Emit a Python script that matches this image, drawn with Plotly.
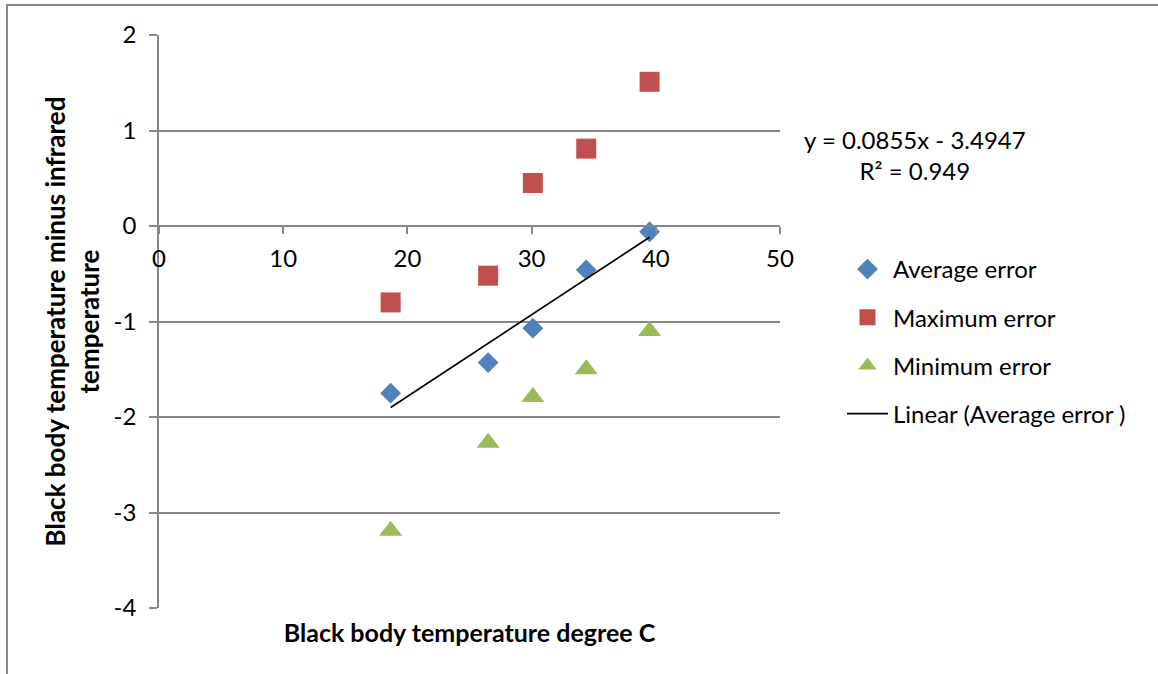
import plotly.graph_objects as go

# ---- data ----
x_temp = [18.65, 26.5, 30.1, 34.4, 39.5]
avg_err = [-1.75, -1.43, -1.07, -0.46, -0.06]
max_err = [-0.80, -0.52, 0.45, 0.81, 1.51]
min_err = [-3.19, -2.27, -1.79, -1.50, -1.10]
trend_slope = 0.0855
trend_intercept = -3.4947
trend_r2 = 0.949
x_ticks = [0, 10, 20, 30, 40, 50]
y_ticks = [-4, -3, -2, -1, 0, 1, 2]
y_ticklabels = ["-4", "-3", "-2", "-1", "0", "1", "2"]

FONT = "Lato"
fs = 24

trend_x = [min(x_temp), max(x_temp)]
trend_y = [trend_slope * v + trend_intercept for v in trend_x]

fig = go.Figure()
fig.add_trace(go.Scatter(x=x_temp, y=avg_err, mode="markers", name="Average error",
                         legendgroup="a",
                         marker=dict(symbol="diamond", size=16, color="#4F81BD")))
fig.add_trace(go.Scatter(x=x_temp, y=max_err, mode="markers", name="Maximum error",
                         legendgroup="b",
                         marker=dict(symbol="square", size=20, color="#C0504D")))
fig.add_trace(go.Scatter(x=x_temp, y=min_err, mode="markers", name="Minimum error",
                         legendgroup="c",
                         marker=dict(symbol="triangle-up", size=20, color="#9BBB59")))
fig.add_trace(go.Scatter(x=trend_x, y=trend_y, mode="lines", name="Linear (Average error )",
                         legendgroup="d", xaxis="x2",
                         line=dict(color="black", width=1.7)))

L, R, T, B = 159, 378, 35, 66
W, H = 1158, 674
pw = W - L - R
ph = H - T - B

def px_x(p):
    return (p - L) / pw

def px_y(p):
    return (H - B - p) / ph

fig.update_layout(
    width=W, height=H,
    margin=dict(l=L, r=R, t=T, b=B, autoexpand=False),
    paper_bgcolor="white", plot_bgcolor="white",
    font=dict(family=FONT, size=fs, color="black"),
    showlegend=True,
    legend=dict(x=px_x(842), y=px_y(247), xanchor="left", yanchor="top",
                tracegroupgap=14, itemwidth=41, font=dict(size=fs),
                bgcolor="rgba(0,0,0,0)"),
    xaxis=dict(range=[0, 50], showgrid=False, zeroline=False, showline=False,
               showticklabels=False, ticks="", automargin=False,
               title=dict(text="<b>Black body temperature degree C</b>", standoff=16,
                          font=dict(size=25))),
    xaxis2=dict(range=[0, 50], overlaying="x", anchor="free", position=4 / 6,
                side="bottom", tickvals=x_ticks, showgrid=False, zeroline=False,
                showline=True, linecolor="#878787", linewidth=1.5, automargin=False,
                ticks="outside", ticklen=7, tickcolor="#878787", tickwidth=1.5,
                ticklabelstandoff=4, tickfont=dict(size=fs)),
    yaxis=dict(range=[-4, 2], tickvals=y_ticks, ticktext=y_ticklabels,
               showgrid=True, gridcolor="#878787", automargin=False,
               gridwidth=1.5, zeroline=False, showline=True, linecolor="#878787",
               linewidth=1.5, ticks="outside", ticklen=8, tickcolor="#878787",
               tickwidth=1.5, ticklabelstandoff=8, tickfont=dict(size=fs),
               title=dict(text="<b>Black body temperature minus infrared<br>temperature</b>",
                          standoff=7, font=dict(size=26))),
)

fig.add_annotation(xref="paper", yref="paper", x=px_x(915), y=px_y(155),
                   text=f"y = {trend_slope}x - {abs(trend_intercept)}<br>R² = {trend_r2}",
                   showarrow=False, align="center", font=dict(size=fs),
                   xanchor="center", yanchor="middle")

fig.add_shape(type="rect", xref="paper", yref="paper",
              x0=px_x(7), x1=px_x(W + 20),
              y0=px_y(H + 20), y1=px_y(5),
              line=dict(color="#888888", width=2), layer="below")

fig.write_html("out.html", config={"displayModeBar": False},
               post_script="document.body.style.margin='0';document.body.style.overflow='hidden';")
